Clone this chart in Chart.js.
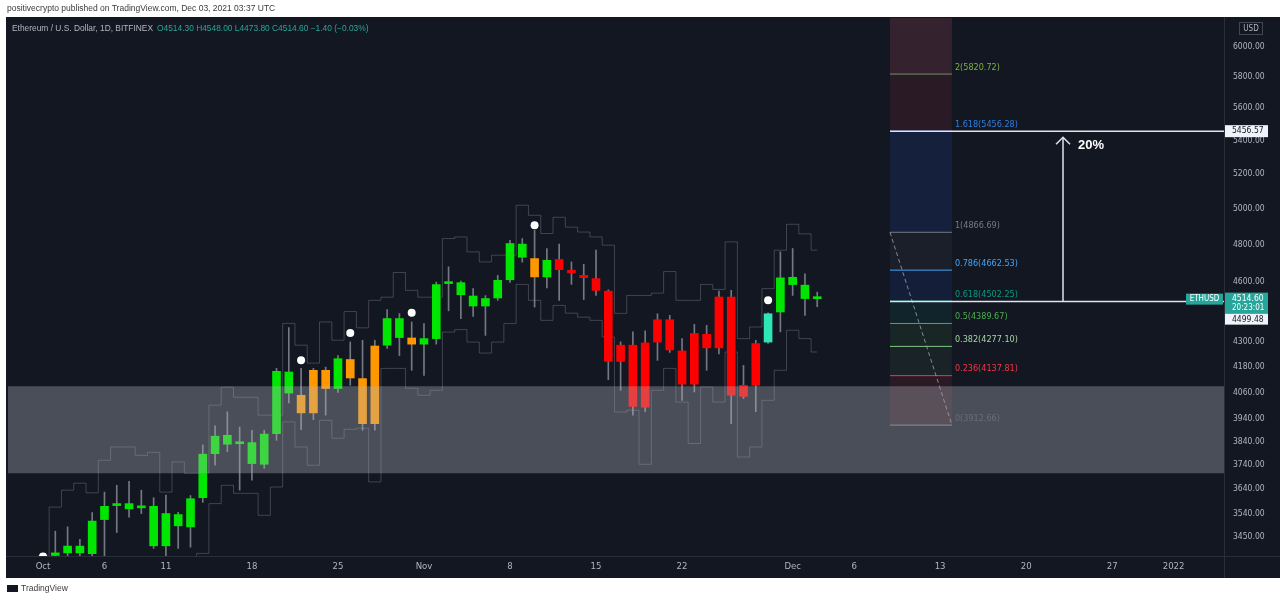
<!DOCTYPE html>
<html>
<head>
<meta charset="utf-8">
<script src="https://cdn.jsdelivr.net/npm/chart.js@4.4.0/dist/chart.umd.min.js"></script>
<style>
  body { margin: 0; background: #fff; width: 1280px; height: 600px; overflow: hidden; position: relative;
         font-family: "Liberation Sans", Arial, sans-serif; }
  #chart { position: absolute; left: 0; top: 0; }
  .pub { position: absolute; left: 7px; top: 3px; font-size: 8.5px; color: #3a3a3a; white-space: nowrap; }
  .legend { position: absolute; left: 12px; top: 23px; font-size: 8.4px; color: #b2b5be; white-space: nowrap; }
  .legend .v { color: #26a69a; margin-left: 4px; }
  .foot { position: absolute; left: 7px; top: 583px; font-size: 8.5px; color: #3a3a3a; white-space: nowrap; }
  .foot .logo { display: inline-block; width: 11px; height: 7px; background: #131722; margin-right: 3px; vertical-align: -1px; }
</style>
</head>
<body>
<canvas id="chart" width="1280" height="600"></canvas>
<div class="pub">positivecrypto published on TradingView.com, Dec 03, 2021 03:37 UTC</div>
<div class="legend">Ethereum / U.S. Dollar, 1D, BITFINEX<span class="v">O4514.30 H4548.00 L4473.80 C4514.60 −1.40 (−0.03%)</span></div>
<div class="foot"><span class="logo"></span>TradingView</div>
<script>
// ============ ETHUSD 1D (Oct 1 – Dec 3, 2021), day index 0 = Oct 1 ============
const openPrices  = [3001, 3376, 3386, 3386, 3383, 3516, 3572, 3580, 3563, 3569, 3413, 3536, 3487, 3604, 3788, 3868,
                     3831, 3836, 3743, 3875, 4155, 4047, 3967, 4163, 4078, 4214, 4124, 3919, 4283, 4414, 4318, 4288,
                     4315, 4592, 4597, 4528, 4477, 4518, 4612, 4802, 4724, 4627, 4719, 4662, 4635, 4618, 4553, 4205,
                     4283, 3993, 4298, 4408, 4255, 4098, 4336, 4270, 4523, 4042, 4093, 4298, 4447, 4625, 4584, 4514.3];
const highPrices  = [3378, 3470, 3487, 3438, 3544, 3627, 3655, 3671, 3635, 3604, 3615, 3545, 3613, 3826, 3909, 3972,
                     3904, 3890, 3890, 4172, 4369, 4172, 4172, 4178, 4233, 4299, 4307, 4307, 4459, 4439, 4397, 4389,
                     4600, 4680, 4605, 4566, 4530, 4635, 4823, 4832, 4877, 4778, 4802, 4706, 4693, 4769, 4560, 4299,
                     4348, 4353, 4438, 4430, 4315, 4385, 4380, 4553, 4557, 4186, 4307, 4443, 4760, 4778, 4643, 4548];
const lowPrices   = [2971, 3350, 3370, 3370, 3370, 3370, 3465, 3526, 3540, 3403, 3370, 3403, 3408, 3585, 3739, 3797,
                     3635, 3676, 3726, 3846, 4012, 3893, 3937, 3957, 4060, 4093, 3890, 3890, 4267, 4233, 4163, 4139,
                     4288, 4453, 4414, 4425, 4331, 4506, 4598, 4705, 4472, 4570, 4506, 4588, 4510, 4531, 4119, 4070,
                     3957, 3972, 4210, 4248, 4024, 4062, 4163, 4241, 3919, 4032, 3972, 4291, 4348, 4531, 4430, 4473.8];
const closePrices = [3376, 3386, 3412, 3412, 3510, 3569, 3580, 3559, 3570, 3413, 3540, 3491, 3600, 3786, 3864, 3829,
                     3838, 3746, 3873, 4158, 4057, 3967, 4163, 4078, 4218, 4127, 3919, 4279, 4414, 4320, 4288, 4315,
                     4587, 4597, 4535, 4477, 4515, 4609, 4805, 4731, 4627, 4715, 4665, 4648, 4623, 4557, 4205, 4283,
                     3996, 4294, 4408, 4260, 4098, 4340, 4270, 4523, 4047, 4093, 4291, 4438, 4622, 4587, 4515, 4514.6];
// indicator bar colouring: g = green, o = orange, r = red, t = teal
const barState = ['g','g','g','g','g','g','g','g','g','g','g','g','g','g','g','g','g','g','g','g','g',
                  'o','o','o','g','o','o','o','g','g','o','g','g','g','g','g','g','g','g','g','o','g',
                  'r','r','r','r','r','r','r','r','r','r','r','r','r','r','r','r','r','t','g','g','g','g'];

// stepped channel lines
const upperBand = [3350, 3566, 3635, 3664, 3624, 3760, 3817, 3817, 3781, 3794, 3627, 3753, 3705, 3705, 4002, 4084,
                   4038, 4038, 3957, 3957, 4390, 4283, 4197, 4397, 4307, 4449, 4368, 4506, 4522, 4650, 4557, 4522,
                   4522, 4832, 4841, 4760, 4706, 4742, 4742, 5018, 4961, 4860, 4950, 4895, 4868, 4841, 4796, 4440,
                   4531, 4531, 4543, 4655, 4506, 4506, 4588, 4562, 4814, 4315, 4372, 4566, 4769, 4911, 4858, 4769];
const lowerBand = [3340, 3340, 3340, 3340, 3340, 3340, 3340, 3340, 3340, 3340, 3340, 3340, 3340, 3384, 3580, 3655,
                   3622, 3622, 3533, 3648, 3927, 3817, 3739, 3934, 3855, 3894, 3899, 3669, 4172, 4172, 4079, 4047,
                   4070, 4347, 4359, 4298, 4245, 4298, 4389, 4588, 4506, 4405, 4480, 4441, 4421, 4405, 4323, 3971,
                   3979, 3743, 4070, 4172, 4016, 3832, 4085, 4016, 4250, 3774, 3817, 4024, 4163, 4356, 4315, 4250];

// white signal dots
const dotDays   = [0, 21, 25, 30, 40, 59];
const dotPrices = [3372, 4210, 4342, 4443, 4905, 4506];

// support zone
const zoneTop = 4088;
const zoneBottom = 3705;

// fib retracement
const fibRatios = [0, 0.236, 0.382, 0.5, 0.618, 0.786, 1, 1.618, 2, 2.618];
const fibPrices = [3912.66, 4137.81, 4277.10, 4389.67, 4502.25, 4662.53, 4866.69, 5456.28, 5820.72, 6410.31];
const fibStartDay = 68.92;
const fibEndDay = 73.96;

// target / entry lines and the 20% arrow
const targetPrice = 5456.57;
const entryPrice = 4499.48;
const lastPrice = 4514.60;
const arrowDay = 83;
const arrowTopPrice = 5419;

// axes
const xMin = -2.85;
const xMax = 96.1;
const yMin = 3374;
const yMax = 6202;
const xTickDays = [0, 5, 10, 17, 24, 31, 38, 45, 52, 61, 66, 73, 80, 87, 92];
const xTickLabels = ['Oct', '6', '11', '18', '25', 'Nov', '8', '15', '22', 'Dec', '6', '13', '20', '27', '2022'];
const yTicks = [6000, 5800, 5600, 5400, 5200, 5000, 4800, 4600, 4300, 4180, 4060, 3940, 3840, 3740, 3640, 3540, 3450];

const BG = '#131722';
const TEXT = '#b2b5be';
const AXIS_FONT = "'Liberation Sans Narrow', 'DejaVu Sans Condensed', 'Liberation Sans', sans-serif";
const STATE_COLORS = { g: '#00e600', o: '#ff9800', r: '#ff0000', t: '#2ee6b6' };
const FIB_LINE_COLORS = ['#787b86', '#f23645', '#81c784', '#4caf50', '#089981', '#42a5f5', '#787b86', '#2962ff', '#6f8f6a', 'rgba(0,0,0,0)'];
const FIB_LABEL_COLORS = ['#6a6d78', '#f23645', '#a5d6a7', '#4caf50', '#089981', '#42a5f5', '#787b86', '#2f7fe0', '#7cb342'];
// fill between fib level i-1 and i
const FIB_FILLS = ['rgba(242,54,69,0.10)', 'rgba(129,199,132,0.07)', 'rgba(76,175,80,0.10)', 'rgba(8,153,129,0.10)',
                   'rgba(41,98,255,0.10)', 'rgba(120,123,134,0.08)', 'rgba(41,98,255,0.12)', 'rgba(242,54,69,0.10)',
                   'rgba(242,110,120,0.15)'];

const hLine = (x0, x1, y) => [{ x: x0, y }, { x: x1, y }];

const datasets = [];

// fib fills + level lines (consecutive indices, fill to previous)
fibPrices.forEach((p, i) => {
    datasets.push({
        type: 'line',
        data: hLine(fibStartDay, fibEndDay, p),
        borderColor: FIB_LINE_COLORS[i],
        borderWidth: 1,
        pointRadius: 0,
        fill: i === 0 ? false : '-1',
        backgroundColor: i === 0 ? 'rgba(0,0,0,0)' : FIB_FILLS[i - 1],
        order: 20
    });
});

datasets.push({
    type: 'line',
    data: upperBand.map((v, i) => ({ x: i, y: v })),
    borderColor: 'rgba(140,143,152,0.38)',
    borderWidth: 1,
    stepped: 'middle',
    pointRadius: 0,
    fill: false,
    order: 15
}, {
    type: 'line',
    data: lowerBand.map((v, i) => ({ x: i, y: v })),
    borderColor: 'rgba(140,143,152,0.38)',
    borderWidth: 1,
    stepped: 'middle',
    pointRadius: 0,
    fill: false,
    order: 15
}, {
    type: 'bar',
    data: highPrices.map((h, i) => ({ x: i, y: [lowPrices[i], h] })),
    backgroundColor: 'rgba(160,162,170,0.7)',
    barThickness: 1,
    grouped: false,
    order: 12
}, {
    type: 'bar',
    data: closePrices.map((c, i) => ({ x: i, y: [openPrices[i], c] })),
    backgroundColor: barState.map(s => STATE_COLORS[s]),
    barThickness: 8,
    minBarLength: 2,
    grouped: false,
    order: 11
}, {
    type: 'line',
    data: hLine(xMin - 1, xMax + 1, zoneTop),
    borderWidth: 0,
    pointRadius: 0,
    fill: { value: zoneBottom },
    backgroundColor: 'rgba(180,183,190,0.345)',
    order: 9
}, {
    type: 'line',
    data: [{ x: fibStartDay, y: fibPrices[6] }, { x: fibEndDay, y: fibPrices[0] }],
    borderColor: 'rgba(160,163,172,0.8)',
    borderWidth: 1,
    borderDash: [4, 3],
    pointRadius: 0,
    fill: false,
    order: 8
}, {
    type: 'line',
    data: hLine(fibStartDay, xMax + 1, targetPrice),
    borderColor: '#e0e3eb',
    borderWidth: 1.5,
    pointRadius: 0,
    fill: false,
    order: 7
}, {
    type: 'line',
    data: hLine(fibStartDay, xMax + 1, entryPrice),
    borderColor: '#e0e3eb',
    borderWidth: 1.5,
    pointRadius: 0,
    fill: false,
    order: 7
}, {
    type: 'line',
    data: [{ x: arrowDay, y: entryPrice }, { x: arrowDay, y: arrowTopPrice }],
    borderColor: '#e0e3eb',
    borderWidth: 1.5,
    pointRadius: 0,
    fill: false,
    order: 6
}, {
    type: 'line',
    data: dotDays.map((d, i) => ({ x: d, y: dotPrices[i] })),
    showLine: false,
    pointRadius: 4,
    pointBorderWidth: 0,
    pointBackgroundColor: '#ffffff',
    order: 5
});

// dark pane + separators
const tvBackground = {
    id: 'tvBackground',
    beforeDraw(chart) {
        const ctx = chart.ctx;
        ctx.save();
        ctx.fillStyle = '#ffffff';
        ctx.fillRect(0, 0, chart.width, chart.height);
        ctx.fillStyle = BG;
        ctx.fillRect(6, 17, chart.width - 6, 561);
        ctx.restore();
    },
    afterDatasetsDraw(chart) {
        const ctx = chart.ctx;
        const a = chart.chartArea;
        ctx.save();
        ctx.strokeStyle = '#2a2e39';
        ctx.lineWidth = 1;
        ctx.beginPath();
        ctx.moveTo(a.right + 0.5, 17);
        ctx.lineTo(a.right + 0.5, 578);
        ctx.moveTo(6, a.bottom + 0.5);
        ctx.lineTo(chart.width, a.bottom + 0.5);
        ctx.stroke();
        ctx.restore();
    }
};

// fib labels, arrow head, 20%, price scale labels
const tvOverlay = {
    id: 'tvOverlay',
    afterDraw(chart) {
        const ctx = chart.ctx;
        const xs = chart.scales.x;
        const ys = chart.scales.y;
        const a = chart.chartArea;
        ctx.save();

        ctx.font = '9px ' + AXIS_FONT;
        ctx.textBaseline = 'bottom';
        ctx.textAlign = 'left';
        const lx = xs.getPixelForValue(fibEndDay) + 3;
        for (let i = 0; i < fibRatios.length - 1; i++) {
            const y = ys.getPixelForValue(fibPrices[i]);
            ctx.fillStyle = FIB_LABEL_COLORS[i];
            ctx.fillText(`${fibRatios[i]}(${fibPrices[i].toFixed(2)})`, lx, y - 2);
        }

        // arrow head
        const ax = xs.getPixelForValue(arrowDay);
        const ay = ys.getPixelForValue(arrowTopPrice);
        ctx.strokeStyle = '#e0e3eb';
        ctx.lineWidth = 1.5;
        ctx.beginPath();
        ctx.moveTo(ax - 7, ay + 7);
        ctx.lineTo(ax, ay);
        ctx.lineTo(ax + 7, ay + 7);
        ctx.stroke();
        ctx.fillStyle = '#ffffff';
        ctx.font = "bold 13px 'Liberation Sans', Arial, sans-serif";
        ctx.textBaseline = 'middle';
        ctx.fillText('20%', ax + 15, ay + 8);

        // price scale labels
        const bx = a.right + 1;
        const bw = 43;
        ctx.font = '8.5px ' + AXIS_FONT;
        ctx.textBaseline = 'middle';
        const ty = ys.getPixelForValue(targetPrice);
        ctx.fillStyle = '#f0f3fa';
        ctx.fillRect(bx, ty - 6, bw, 12);
        ctx.fillStyle = BG;
        ctx.fillText(targetPrice.toFixed(2), bx + 7, ty);

        const py = ys.getPixelForValue(lastPrice);
        ctx.fillStyle = '#26a69a';
        ctx.fillRect(bx, py - 6, bw, 21);
        ctx.fillStyle = '#ffffff';
        ctx.fillText(lastPrice.toFixed(2), bx + 7, py);
        ctx.font = '8px ' + AXIS_FONT;
        ctx.fillText('20:23:01', bx + 7, py + 9.5);

        ctx.fillStyle = '#f0f3fa';
        ctx.fillRect(bx, py + 15, bw, 11);
        ctx.fillStyle = BG;
        ctx.font = '8.5px ' + AXIS_FONT;
        ctx.fillText(entryPrice.toFixed(2), bx + 7, py + 21);

        // symbol tag
        ctx.fillStyle = '#26a69a';
        ctx.fillRect(a.right - 38, py - 5, 37, 11);
        ctx.fillStyle = '#ffffff';
        ctx.font = '8px ' + AXIS_FONT;
        ctx.textAlign = 'center';
        ctx.fillText('ETHUSD', a.right - 19.5, py + 0.5);

        // currency badge
        ctx.strokeStyle = '#434651';
        ctx.lineWidth = 1;
        ctx.strokeRect(a.right + 15.5, 22.5, 23, 12);
        ctx.fillStyle = TEXT;
        ctx.fillText('USD', a.right + 27, 28.5);
        ctx.restore();
    }
};

new Chart(document.getElementById('chart'), {
    type: 'bar',
    data: { datasets },
    options: {
        responsive: false,
        animation: false,
        events: [],
        layout: { padding: { left: 8, top: 18, right: 0, bottom: 22 } },
        plugins: { legend: { display: false }, tooltip: { enabled: false } },
        scales: {
            x: {
                type: 'linear',
                min: xMin,
                max: xMax,
                offset: false,
                grid: { display: false, drawTicks: false },
                border: { display: false },
                afterBuildTicks: s => { s.ticks = xTickDays.map(v => ({ value: v })); },
                afterFit: s => { s.height = 22; },
                ticks: {
                    autoSkip: false,
                    maxRotation: 0,
                    padding: 5,
                    color: TEXT,
                    font: { family: AXIS_FONT, size: 9.5 },
                    callback: (v, i) => xTickLabels[i]
                }
            },
            y: {
                type: 'logarithmic',
                position: 'right',
                min: yMin,
                max: yMax,
                grid: { display: false, drawTicks: false },
                border: { display: false },
                afterBuildTicks: s => { s.ticks = yTicks.map(v => ({ value: v })); },
                afterFit: s => { s.width = 56; },
                ticks: {
                    autoSkip: false,
                    padding: 9,
                    color: TEXT,
                    font: { family: AXIS_FONT, size: 8.5 },
                    callback: (v, i) => yTicks[i].toFixed(2)
                }
            }
        }
    },
    plugins: [tvBackground, tvOverlay]
});
</script>
</body>
</html>
